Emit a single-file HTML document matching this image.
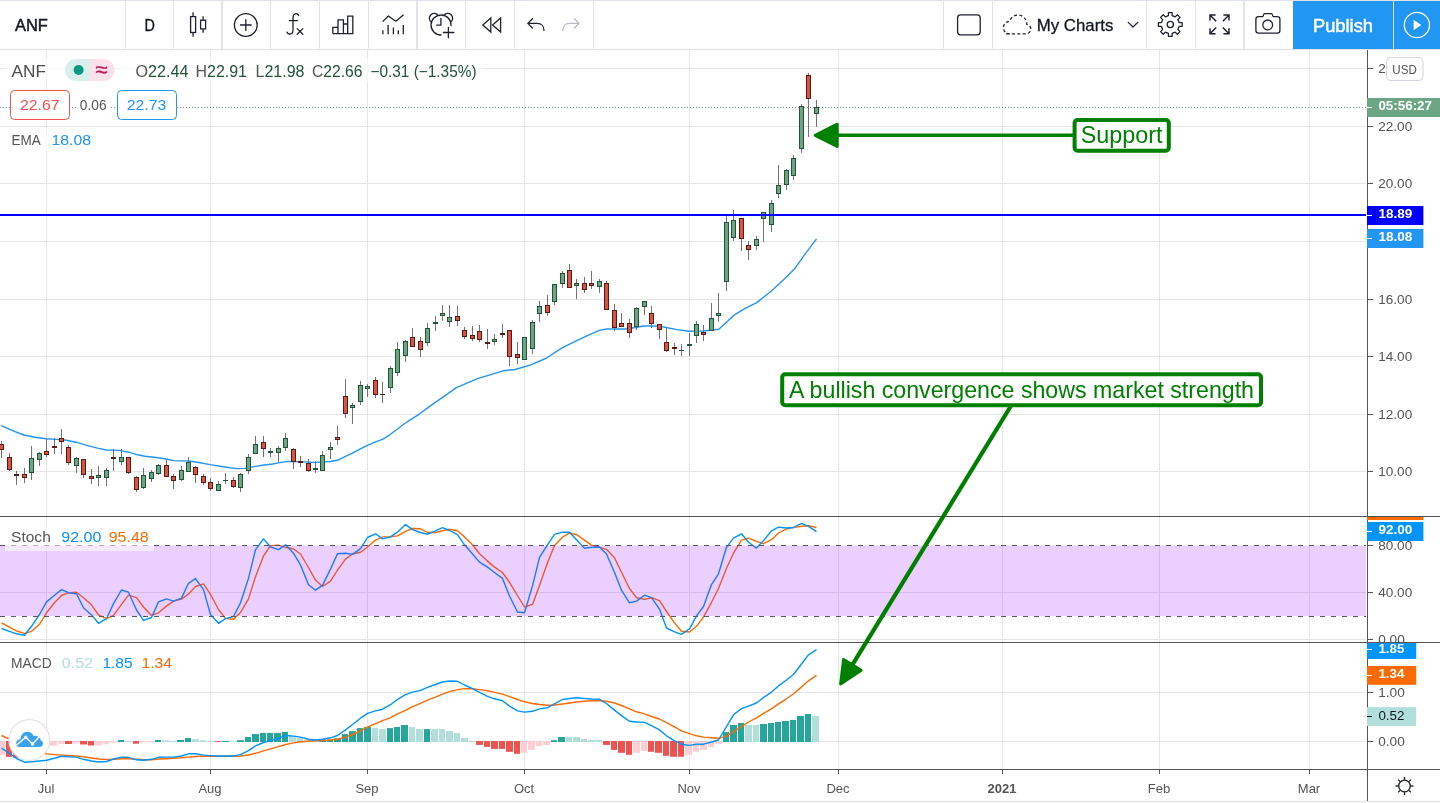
<!DOCTYPE html>
<html lang="en"><head><meta charset="utf-8"><title>ANF chart</title>
<style>
html,body{margin:0;padding:0;background:#fff}
body{width:1440px;height:803px;overflow:hidden;position:relative;font-family:"Liberation Sans", sans-serif}
svg{position:absolute;left:0;top:0;display:block}
</style></head><body>
<svg width="1440" height="803" viewBox="0 0 1440 803" font-family='"Liberation Sans", sans-serif' shape-rendering="auto">
<rect width="1440" height="803" fill="#fff"/>
<g stroke="#e6e6e6" stroke-width="1" shape-rendering="crispEdges">
<line x1="46.5" y1="50" x2="46.5" y2="769"/>
<line x1="210.5" y1="50" x2="210.5" y2="769"/>
<line x1="367.5" y1="50" x2="367.5" y2="769"/>
<line x1="524.5" y1="50" x2="524.5" y2="769"/>
<line x1="689.5" y1="50" x2="689.5" y2="769"/>
<line x1="838.5" y1="50" x2="838.5" y2="769"/>
<line x1="1002.5" y1="50" x2="1002.5" y2="769"/>
<line x1="1159.5" y1="50" x2="1159.5" y2="769"/>
<line x1="1309.5" y1="50" x2="1309.5" y2="769"/>
<line x1="0" y1="68.5" x2="1366" y2="68.5"/>
<line x1="0" y1="126.5" x2="1366" y2="126.5"/>
<line x1="0" y1="183.5" x2="1366" y2="183.5"/>
<line x1="0" y1="241.5" x2="1366" y2="241.5"/>
<line x1="0" y1="299.5" x2="1366" y2="299.5"/>
<line x1="0" y1="356.5" x2="1366" y2="356.5"/>
<line x1="0" y1="414.5" x2="1366" y2="414.5"/>
<line x1="0" y1="471.5" x2="1366" y2="471.5"/>
<line x1="0" y1="592.5" x2="1366" y2="592.5"/>
<line x1="0" y1="639.5" x2="1366" y2="639.5"/>
<line x1="0" y1="692.5" x2="1366" y2="692.5"/>
<line x1="0" y1="741.5" x2="1366" y2="741.5"/>
</g>
<defs><clipPath id="cm"><rect x="0" y="50" width="1366" height="466"/></clipPath><clipPath id="cs"><rect x="0" y="517" width="1366" height="125"/></clipPath><clipPath id="cd"><rect x="0" y="643" width="1366" height="126"/></clipPath><clipPath id="cas"><rect x="1368" y="517" width="72" height="125"/></clipPath><clipPath id="cad"><rect x="1367" y="643" width="73" height="126"/></clipPath><clipPath id="cam"><rect x="1368" y="50" width="72" height="466"/></clipPath></defs>
<line x1="0" y1="107.5" x2="1366" y2="107.5" stroke="#6ba583" stroke-width="1" stroke-dasharray="1 2" shape-rendering="crispEdges"/>
<polyline points="1.2,425.6 12.5,430.6 23.8,435.0 35.0,437.2 46.2,438.8 56.2,439.4 65.0,440.0 76.2,442.2 87.5,445.6 97.5,448.1 106.2,450.0 118.8,450.4 128.8,452.2 137.5,454.8 145.0,456.2 156.2,457.5 166.2,459.0 173.8,460.6 180.0,460.9 188.8,461.0 198.8,462.5 210.0,464.6 220.0,466.2 230.0,467.8 237.5,468.6 245.0,468.4 252.5,466.9 262.5,465.2 272.5,464.0 282.5,462.1 287.5,461.5 295.0,461.5 305.0,461.9 315.0,462.5 325.0,461.9 330.0,461.5 337.5,460.3 345.0,456.6 352.4,453.2 359.9,449.1 367.4,445.3 374.8,442.2 382.3,439.4 389.8,434.8 397.2,429.2 404.7,423.5 412.2,418.6 419.7,413.8 430.0,406.1 438.6,400.2 456.4,387.6 477.4,378.7 503.3,370.8 515.0,369.5 531.5,364.6 546.6,358.0 561.6,348.2 576.7,340.6 589.0,334.9 600.0,330.1 606.8,329.0 626.0,329.0 637.0,327.3 643.8,326.0 654.8,326.0 661.6,326.6 665.0,327.2 677.0,329.6 688.9,331.2 702.9,331.0 718.8,329.2 734.8,314.6 744.7,308.6 756.7,302.6 770.6,291.7 784.6,278.7 794.6,268.8 804.5,254.8 816.5,238.9" fill="none" stroke="#2196f3" stroke-width="1.4" stroke-linejoin="round" clip-path="url(#cm)"/>
<g clip-path="url(#cm)" shape-rendering="crispEdges">
<path d="M1.5 441.0V457.5M9.5 453.1V470.6M16.5 471.0V484.8M24.5 468.1V482.8M31.5 446.2V479.8M39.5 452.1V465.9M46.5 438.8V456.6M54.5 438.1V453.8M61.5 429.0V453.8M68.5 445.0V464.8M76.5 457.1V472.8M83.5 459.1V477.8M91.5 469.1V483.8M98.5 466.0V485.9M106.5 468.1V485.9M113.5 449.1V470.9M121.5 449.1V464.6M128.5 457.1V473.8M136.5 476.2V491.9M143.5 468.1V488.8M151.5 470.2V481.6M158.5 464.0V474.8M166.5 459.1V476.9M173.5 474.1V488.8M181.5 466.2V480.6M188.5 457.1V471.9M195.5 466.2V482.8M203.5 474.1V484.8M210.5 478.1V490.9M218.5 481.2V490.5M225.5 473.1V483.8M233.5 477.2V487.5M240.5 473.1V491.9M248.5 454.1V473.8M255.5 436.2V453.5M263.5 436.2V456.9M270.5 448.1V456.9M278.5 446.0V461.6M285.5 433.1V450.6M293.5 448.1V468.8M300.5 456.2V466.9M308.5 459.1V471.6M315.5 461.2V472.8M322.5 451.2V470.6M330.5 442.2V458.8M337.5 426.2V444.6M345.5 379.2V417.7M352.5 403.1V423.7M360.5 381.1V404.7M367.5 384.0V396.7M375.5 377.2V397.5M382.5 382.1V402.6M390.5 366.2V392.6M397.5 342.3V375.6M405.5 340.3V361.7M412.5 328.2V347.4M420.5 337.1V356.5M427.5 323.3V345.5M435.5 316.0V330.6M442.5 305.0V320.6M449.5 305.0V326.6M457.5 306.0V325.8M464.5 327.1V338.7M472.5 326.1V340.6M479.5 325.1V341.6M487.5 329.2V348.7M494.5 334.2V344.7M502.5 324.1V337.7M509.5 330.1V365.6M517.5 342.1V363.6M524.5 337.2V359.5M532.5 320.2V353.6M539.5 301.3V321.7M547.5 295.3V315.7M554.5 284.2V304.6M562.5 271.2V287.6M569.5 264.2V288.4M576.5 279.2V298.8M584.5 277.2V292.7M591.5 271.2V288.6M599.5 279.2V292.7M606.5 281.0V309.5M614.5 304.3V330.6M621.5 313.2V326.5M629.5 319.1V337.6M636.5 307.3V329.7M644.5 301.3V314.6M651.5 306.2V327.6M659.5 324.3V338.6M666.5 328.0V351.5M674.5 343.1V355.1M681.5 344.1V356.1M689.5 333.2V356.1M696.5 320.8V342.9M703.5 325.2V340.9M711.5 303.1V330.6M718.5 292.9V322.0M726.5 215.9V290.9M733.5 210.0V240.9M741.5 217.9V250.8M748.5 241.3V259.8M756.5 235.9V249.8M763.5 212.0V241.9M771.5 200.0V231.9M778.5 164.8V197.6M786.5 169.0V189.5M793.5 155.2V179.6M801.5 104.0V152.5M808.5 73.1V136.6M816.5 99.8V126.5" stroke="#737375" stroke-width="1" fill="none"/>
<rect x="-0.5" y="444.5" width="4" height="5" fill="#d75442" stroke="#5b1a13"/><rect x="7.5" y="457.5" width="4" height="12" fill="#d75442" stroke="#5b1a13"/><rect x="14" y="474" width="5" height="2" fill="#5b1a13"/><rect x="22.5" y="474.5" width="4" height="3" fill="#d75442" stroke="#5b1a13"/><rect x="29.5" y="458.5" width="4" height="14" fill="#6ba583" stroke="#225437"/><rect x="37.5" y="453.5" width="4" height="6" fill="#6ba583" stroke="#225437"/><rect x="44.5" y="451.5" width="4" height="3" fill="#d75442" stroke="#5b1a13"/><rect x="52" y="446" width="5" height="2" fill="#5b1a13"/><rect x="59.5" y="438.5" width="4" height="3" fill="#d75442" stroke="#5b1a13"/><rect x="66.5" y="447.5" width="4" height="15" fill="#d75442" stroke="#5b1a13"/><rect x="74.5" y="458.5" width="4" height="7" fill="#6ba583" stroke="#225437"/><rect x="81.5" y="459.5" width="4" height="15" fill="#d75442" stroke="#5b1a13"/><rect x="89.5" y="476.5" width="4" height="2" fill="#d75442" stroke="#5b1a13"/><rect x="96.5" y="475.5" width="4" height="2" fill="#6ba583" stroke="#225437"/><rect x="104.5" y="470.5" width="4" height="7" fill="#6ba583" stroke="#225437"/><rect x="111" y="457" width="5" height="2" fill="#5b1a13"/><rect x="119.5" y="457.5" width="4" height="4" fill="#6ba583" stroke="#225437"/><rect x="126.5" y="457.5" width="4" height="15" fill="#d75442" stroke="#5b1a13"/><rect x="134.5" y="477.5" width="4" height="12" fill="#d75442" stroke="#5b1a13"/><rect x="141.5" y="475.5" width="4" height="12" fill="#6ba583" stroke="#225437"/><rect x="149.5" y="472.5" width="4" height="6" fill="#6ba583" stroke="#225437"/><rect x="156.5" y="465.5" width="4" height="8" fill="#6ba583" stroke="#225437"/><rect x="164.5" y="465.5" width="4" height="11" fill="#d75442" stroke="#5b1a13"/><rect x="171.5" y="476.5" width="4" height="4" fill="#d75442" stroke="#5b1a13"/><rect x="179.5" y="470.5" width="4" height="9" fill="#6ba583" stroke="#225437"/><rect x="186.5" y="462.5" width="4" height="9" fill="#6ba583" stroke="#225437"/><rect x="193.5" y="467.5" width="4" height="7" fill="#d75442" stroke="#5b1a13"/><rect x="201.5" y="476.5" width="4" height="6" fill="#d75442" stroke="#5b1a13"/><rect x="208.5" y="482.5" width="4" height="6" fill="#d75442" stroke="#5b1a13"/><rect x="216.5" y="484.5" width="4" height="6" fill="#6ba583" stroke="#225437"/><rect x="223" y="480" width="5" height="1" fill="#225437"/><rect x="231.5" y="480.5" width="4" height="6" fill="#d75442" stroke="#5b1a13"/><rect x="238.5" y="474.5" width="4" height="13" fill="#6ba583" stroke="#225437"/><rect x="246.5" y="457.5" width="4" height="13" fill="#6ba583" stroke="#225437"/><rect x="253.5" y="444.5" width="4" height="9" fill="#6ba583" stroke="#225437"/><rect x="261.5" y="442.5" width="4" height="6" fill="#d75442" stroke="#5b1a13"/><rect x="268" y="451" width="5" height="2" fill="#225437"/><rect x="276.5" y="448.5" width="4" height="4" fill="#6ba583" stroke="#225437"/><rect x="283.5" y="438.5" width="4" height="9" fill="#6ba583" stroke="#225437"/><rect x="291.5" y="449.5" width="4" height="12" fill="#d75442" stroke="#5b1a13"/><rect x="298" y="461" width="5" height="2" fill="#5b1a13"/><rect x="306.5" y="463.5" width="4" height="7" fill="#d75442" stroke="#5b1a13"/><rect x="313" y="468" width="5" height="2" fill="#225437"/><rect x="320.5" y="455.5" width="4" height="15" fill="#6ba583" stroke="#225437"/><rect x="328.5" y="447.5" width="4" height="2" fill="#6ba583" stroke="#225437"/><rect x="335.5" y="437.5" width="4" height="2" fill="#d75442" stroke="#5b1a13"/><rect x="343.5" y="396.5" width="4" height="17" fill="#d75442" stroke="#5b1a13"/><rect x="350.5" y="405.5" width="4" height="2" fill="#6ba583" stroke="#225437"/><rect x="358.5" y="385.5" width="4" height="16" fill="#6ba583" stroke="#225437"/><rect x="365.5" y="386.5" width="4" height="2" fill="#6ba583" stroke="#225437"/><rect x="373.5" y="380.5" width="4" height="14" fill="#d75442" stroke="#5b1a13"/><rect x="380" y="394" width="5" height="1" fill="#5b1a13"/><rect x="388.5" y="368.5" width="4" height="19" fill="#6ba583" stroke="#225437"/><rect x="395.5" y="349.5" width="4" height="23" fill="#6ba583" stroke="#225437"/><rect x="403.5" y="341.5" width="4" height="14" fill="#6ba583" stroke="#225437"/><rect x="410.5" y="337.5" width="4" height="9" fill="#d75442" stroke="#5b1a13"/><rect x="418.5" y="341.5" width="4" height="8" fill="#d75442" stroke="#5b1a13"/><rect x="425.5" y="328.5" width="4" height="14" fill="#6ba583" stroke="#225437"/><rect x="433" y="322" width="5" height="2" fill="#225437"/><rect x="440.5" y="313.5" width="4" height="2" fill="#6ba583" stroke="#225437"/><rect x="447.5" y="317.5" width="4" height="4" fill="#6ba583" stroke="#225437"/><rect x="455.5" y="316.5" width="4" height="4" fill="#d75442" stroke="#5b1a13"/><rect x="462.5" y="330.5" width="4" height="6" fill="#d75442" stroke="#5b1a13"/><rect x="470.5" y="335.5" width="4" height="3" fill="#d75442" stroke="#5b1a13"/><rect x="477.5" y="331.5" width="4" height="8" fill="#d75442" stroke="#5b1a13"/><rect x="485" y="342" width="5" height="2" fill="#5b1a13"/><rect x="492.5" y="339.5" width="4" height="2" fill="#6ba583" stroke="#225437"/><rect x="500" y="333" width="5" height="2" fill="#5b1a13"/><rect x="507.5" y="330.5" width="4" height="26" fill="#d75442" stroke="#5b1a13"/><rect x="515.5" y="354.5" width="4" height="3" fill="#d75442" stroke="#5b1a13"/><rect x="522.5" y="337.5" width="4" height="22" fill="#6ba583" stroke="#225437"/><rect x="530.5" y="322.5" width="4" height="26" fill="#6ba583" stroke="#225437"/><rect x="537.5" y="306.5" width="4" height="7" fill="#6ba583" stroke="#225437"/><rect x="545.5" y="305.5" width="4" height="7" fill="#d75442" stroke="#5b1a13"/><rect x="552.5" y="284.5" width="4" height="17" fill="#6ba583" stroke="#225437"/><rect x="560.5" y="273.5" width="4" height="10" fill="#6ba583" stroke="#225437"/><rect x="567.5" y="270.5" width="4" height="17" fill="#d75442" stroke="#5b1a13"/><rect x="574.5" y="283.5" width="4" height="2" fill="#6ba583" stroke="#225437"/><rect x="582.5" y="283.5" width="4" height="6" fill="#d75442" stroke="#5b1a13"/><rect x="589.5" y="283.5" width="4" height="2" fill="#d75442" stroke="#5b1a13"/><rect x="597.5" y="281.5" width="4" height="5" fill="#6ba583" stroke="#225437"/><rect x="604.5" y="283.5" width="4" height="26" fill="#d75442" stroke="#5b1a13"/><rect x="612.5" y="310.5" width="4" height="17" fill="#d75442" stroke="#5b1a13"/><rect x="619.5" y="323.5" width="4" height="3" fill="#d75442" stroke="#5b1a13"/><rect x="627.5" y="323.5" width="4" height="9" fill="#d75442" stroke="#5b1a13"/><rect x="634.5" y="308.5" width="4" height="18" fill="#6ba583" stroke="#225437"/><rect x="642.5" y="301.5" width="4" height="5" fill="#6ba583" stroke="#225437"/><rect x="649.5" y="313.5" width="4" height="10" fill="#d75442" stroke="#5b1a13"/><rect x="657.5" y="324.5" width="4" height="5" fill="#d75442" stroke="#5b1a13"/><rect x="664.5" y="342.5" width="4" height="8" fill="#d75442" stroke="#5b1a13"/><rect x="672" y="347" width="5" height="2" fill="#5b1a13"/><rect x="679" y="350" width="5" height="1" fill="#225437"/><rect x="687" y="344" width="5" height="2" fill="#225437"/><rect x="694.5" y="324.5" width="4" height="11" fill="#6ba583" stroke="#225437"/><rect x="701.5" y="332.5" width="4" height="2" fill="#d75442" stroke="#5b1a13"/><rect x="709.5" y="318.5" width="4" height="12" fill="#6ba583" stroke="#225437"/><rect x="716.5" y="313.5" width="4" height="2" fill="#6ba583" stroke="#225437"/><rect x="724.5" y="222.5" width="4" height="59" fill="#6ba583" stroke="#225437"/><rect x="731.5" y="220.5" width="4" height="17" fill="#6ba583" stroke="#225437"/><rect x="739.5" y="218.5" width="4" height="20" fill="#d75442" stroke="#5b1a13"/><rect x="746.5" y="245.5" width="4" height="4" fill="#d75442" stroke="#5b1a13"/><rect x="754.5" y="239.5" width="4" height="6" fill="#6ba583" stroke="#225437"/><rect x="761.5" y="212.5" width="4" height="6" fill="#6ba583" stroke="#225437"/><rect x="769.5" y="203.5" width="4" height="21" fill="#6ba583" stroke="#225437"/><rect x="776.5" y="185.5" width="4" height="8" fill="#6ba583" stroke="#225437"/><rect x="784.5" y="170.5" width="4" height="14" fill="#6ba583" stroke="#225437"/><rect x="791.5" y="158.5" width="4" height="17" fill="#6ba583" stroke="#225437"/><rect x="799.5" y="106.5" width="4" height="42" fill="#6ba583" stroke="#225437"/><rect x="806.5" y="75.5" width="4" height="23" fill="#d75442" stroke="#5b1a13"/><rect x="814.5" y="107.5" width="4" height="6" fill="#6ba583" stroke="#225437"/>
</g>
<rect x="0" y="214" width="1366" height="2" fill="#0000ff"/>
<g clip-path="url(#cs)">
<polyline points="1.5,622.9 9.5,627.1 16.5,631.0 24.5,633.3 31.5,631.3 39.5,624.3 46.5,612.8 54.5,602.8 61.5,595.5 68.5,592.7 76.5,592.2 83.5,597.7 91.5,604.8 98.5,614.9 106.5,618.7 113.5,615.4 121.5,604.4 128.5,595.2 136.5,597.7 143.5,607.0 151.5,615.4 158.5,612.8 166.5,606.1 173.5,601.1 181.5,599.1 188.5,594.0 195.5,586.5 203.5,583.8 210.5,594.4 218.5,609.5 225.5,618.4 233.5,619.2 240.5,612.5 248.5,598.9 255.5,576.7 263.5,556.0 270.5,545.6 278.5,545.1 285.5,547.3 293.5,549.0 300.5,554.0 308.5,567.5 315.5,580.1 322.5,586.5 330.5,581.2 337.5,570.0 345.5,559.1 352.5,554.0 360.5,552.3 367.5,547.0 375.5,540.1 382.5,536.9 390.5,536.7 397.5,535.9 405.5,531.3 412.5,528.5 420.5,528.8 427.5,532.5 435.5,532.5 442.5,530.8 449.5,529.3 457.5,530.8 464.5,536.9 472.5,544.8 479.5,553.7 487.5,561.1 494.5,567.1 502.5,572.5 509.5,582.3 517.5,595.5 524.5,607.0 532.5,604.4 539.5,585.4 547.5,562.8 554.5,545.6 562.5,537.2 569.5,533.0 576.5,534.7 584.5,540.1 591.5,545.1 599.5,547.3 606.5,549.3 614.5,557.7 621.5,572.2 629.5,588.5 636.5,597.7 644.5,599.4 651.5,597.7 659.5,600.6 666.5,611.5 674.5,622.9 681.5,631.3 689.5,632.0 696.5,626.3 703.5,617.0 711.5,602.3 718.5,588.5 726.5,568.3 733.5,553.2 741.5,540.2 748.5,538.1 756.5,541.4 763.5,543.6 771.5,539.7 778.5,533.0 786.5,528.8 793.5,527.6 801.5,526.3 808.5,525.8 816.5,527.5" fill="none" stroke="#ff6a00" stroke-width="1.4" stroke-linejoin="round"/>
<polyline points="1.5,628.5 9.5,631.3 16.5,633.8 24.5,635.2 31.5,626.3 39.5,614.5 46.5,601.9 54.5,595.2 61.5,589.6 68.5,592.7 76.5,593.8 83.5,607.8 91.5,614.9 98.5,623.3 106.5,618.7 113.5,603.6 121.5,590.0 128.5,592.2 136.5,610.0 143.5,620.4 151.5,617.5 158.5,601.9 166.5,598.9 173.5,601.1 181.5,598.1 188.5,583.3 195.5,578.6 203.5,589.6 210.5,614.5 218.5,623.3 225.5,618.7 233.5,616.5 240.5,602.8 248.5,578.4 255.5,549.8 263.5,538.9 270.5,547.0 278.5,549.6 285.5,544.8 293.5,553.2 300.5,564.9 308.5,584.8 315.5,590.2 322.5,585.4 330.5,569.1 337.5,553.7 345.5,553.2 352.5,554.4 360.5,548.6 367.5,537.5 375.5,533.8 382.5,538.9 390.5,536.9 397.5,532.2 405.5,524.6 412.5,529.6 420.5,532.5 427.5,534.2 435.5,530.8 442.5,527.6 449.5,530.5 457.5,534.7 464.5,544.8 472.5,554.0 479.5,562.1 487.5,567.1 494.5,572.5 502.5,578.4 509.5,596.0 517.5,612.0 524.5,612.8 532.5,585.9 539.5,557.4 547.5,544.8 554.5,534.4 562.5,532.2 569.5,532.2 576.5,539.7 584.5,548.3 591.5,547.3 599.5,547.0 606.5,554.0 614.5,572.5 621.5,590.2 629.5,602.8 636.5,601.1 644.5,595.2 651.5,597.7 659.5,609.1 666.5,628.0 674.5,631.8 681.5,634.4 689.5,628.8 696.5,615.9 703.5,606.5 711.5,584.6 718.5,573.8 726.5,547.3 733.5,538.1 741.5,533.8 748.5,542.3 756.5,548.1 763.5,540.6 771.5,530.8 778.5,527.1 786.5,528.0 793.5,527.5 801.5,523.4 808.5,526.3 816.5,531.7" fill="none" stroke="#0094ff" stroke-width="1.4" stroke-linejoin="round"/>
<rect x="0" y="545.5" width="1366" height="70.5" fill="#9915ff" fill-opacity="0.2"/>
<g stroke="#5a5560" stroke-width="1" stroke-dasharray="5 6" shape-rendering="crispEdges"><line x1="0" y1="545.5" x2="1366" y2="545.5"/><line x1="0" y1="616.5" x2="1366" y2="616.5"/></g>
</g>
<g clip-path="url(#cd)">
<rect x="-2" y="741" width="7" height="13.8" fill="#ffcdd2"/><rect x="6" y="741" width="6" height="15.9" fill="#ef5350"/><rect x="13" y="741" width="6" height="16.8" fill="#ef5350"/><rect x="20" y="741" width="7" height="14.0" fill="#ffcdd2"/><rect x="28" y="741" width="6" height="11.0" fill="#ffcdd2"/><rect x="35" y="741" width="7" height="8.0" fill="#ffcdd2"/><rect x="43" y="741" width="6" height="6.0" fill="#ffcdd2"/><rect x="50" y="741" width="7" height="4.7" fill="#ffcdd2"/><rect x="58" y="741" width="6" height="2.8" fill="#ffcdd2"/><rect x="65" y="741" width="7" height="3.0" fill="#ef5350"/><rect x="73" y="741" width="6" height="2.5" fill="#ffcdd2"/><rect x="80" y="741" width="7" height="3.5" fill="#ef5350"/><rect x="88" y="741" width="6" height="4.5" fill="#ef5350"/><rect x="95" y="741" width="7" height="4.4" fill="#ffcdd2"/><rect x="103" y="741" width="6" height="3.2" fill="#ffcdd2"/><rect x="110" y="741" width="7" height="1.5" fill="#ffcdd2"/><rect x="118" y="740.0" width="6" height="2.0" fill="#26a69a"/><rect x="125" y="741.0" width="7" height="1.0" fill="#b2dfdb"/><rect x="133" y="741" width="6" height="2.7" fill="#ef5350"/><rect x="140" y="741" width="6" height="1.5" fill="#ffcdd2"/><rect x="147" y="741" width="7" height="1.3" fill="#ffcdd2"/><rect x="155" y="740.0" width="6" height="2.0" fill="#26a69a"/><rect x="162" y="740.3" width="7" height="1.7" fill="#b2dfdb"/><rect x="170" y="741.0" width="6" height="1.0" fill="#b2dfdb"/><rect x="177" y="740.0" width="7" height="2.0" fill="#26a69a"/><rect x="185" y="738.1" width="6" height="3.9" fill="#26a69a"/><rect x="192" y="739.1" width="7" height="2.9" fill="#b2dfdb"/><rect x="200" y="740.2" width="6" height="1.8" fill="#b2dfdb"/><rect x="207" y="741.2" width="7" height="0.8" fill="#b2dfdb"/><rect x="215" y="741" width="6" height="1.0" fill="#ef5350"/><rect x="222" y="741.0" width="7" height="1.0" fill="#26a69a"/><rect x="230" y="741.3" width="6" height="0.7" fill="#b2dfdb"/><rect x="237" y="740.2" width="7" height="1.8" fill="#26a69a"/><rect x="245" y="737.0" width="6" height="5.0" fill="#26a69a"/><rect x="252" y="734.1" width="7" height="7.9" fill="#26a69a"/><rect x="260" y="732.9" width="6" height="9.1" fill="#26a69a"/><rect x="267" y="732.9" width="6" height="9.1" fill="#26a69a"/><rect x="274" y="732.9" width="7" height="9.1" fill="#26a69a"/><rect x="282" y="731.9" width="6" height="10.1" fill="#26a69a"/><rect x="289" y="735.8" width="7" height="6.2" fill="#b2dfdb"/><rect x="297" y="737.8" width="6" height="4.2" fill="#b2dfdb"/><rect x="304" y="739.5" width="7" height="2.5" fill="#b2dfdb"/><rect x="312" y="740.5" width="6" height="1.5" fill="#b2dfdb"/><rect x="319" y="740.2" width="7" height="1.8" fill="#26a69a"/><rect x="327" y="739.5" width="6" height="2.5" fill="#26a69a"/><rect x="334" y="738.3" width="7" height="3.7" fill="#26a69a"/><rect x="342" y="734.1" width="6" height="7.9" fill="#26a69a"/><rect x="349" y="731.1" width="7" height="10.9" fill="#26a69a"/><rect x="357" y="728.1" width="6" height="13.9" fill="#26a69a"/><rect x="364" y="727.0" width="7" height="15.0" fill="#26a69a"/><rect x="372" y="728.1" width="6" height="13.9" fill="#b2dfdb"/><rect x="379" y="729.1" width="7" height="12.9" fill="#b2dfdb"/><rect x="387" y="728.1" width="6" height="13.9" fill="#26a69a"/><rect x="394" y="727.0" width="6" height="15.0" fill="#26a69a"/><rect x="401" y="725.0" width="7" height="17.0" fill="#26a69a"/><rect x="409" y="727.0" width="6" height="15.0" fill="#b2dfdb"/><rect x="416" y="729.1" width="7" height="12.9" fill="#b2dfdb"/><rect x="424" y="729.1" width="6" height="12.9" fill="#26a69a"/><rect x="431" y="729.1" width="7" height="12.9" fill="#b2dfdb"/><rect x="439" y="729.1" width="6" height="12.9" fill="#b2dfdb"/><rect x="446" y="731.1" width="7" height="10.9" fill="#b2dfdb"/><rect x="454" y="733.1" width="6" height="8.9" fill="#b2dfdb"/><rect x="461" y="738.0" width="7" height="4.0" fill="#b2dfdb"/><rect x="469" y="741.0" width="6" height="1.0" fill="#b2dfdb"/><rect x="476" y="741" width="7" height="3.9" fill="#ef5350"/><rect x="484" y="741" width="6" height="5.9" fill="#ef5350"/><rect x="491" y="741" width="7" height="7.9" fill="#ef5350"/><rect x="499" y="741" width="6" height="7.9" fill="#ef5350"/><rect x="506" y="741" width="7" height="10.8" fill="#ef5350"/><rect x="514" y="741" width="6" height="12.8" fill="#ef5350"/><rect x="521" y="741" width="6" height="11.8" fill="#ffcdd2"/><rect x="528" y="741" width="7" height="8.9" fill="#ffcdd2"/><rect x="536" y="741" width="6" height="4.9" fill="#ffcdd2"/><rect x="543" y="741" width="7" height="3.9" fill="#ffcdd2"/><rect x="551" y="740.2" width="6" height="1.8" fill="#26a69a"/><rect x="558" y="737.0" width="7" height="5.0" fill="#26a69a"/><rect x="566" y="737.0" width="6" height="5.0" fill="#b2dfdb"/><rect x="573" y="737.0" width="7" height="5.0" fill="#b2dfdb"/><rect x="581" y="739.0" width="6" height="3.0" fill="#b2dfdb"/><rect x="588" y="740.0" width="7" height="2.0" fill="#b2dfdb"/><rect x="596" y="740.0" width="6" height="2.0" fill="#b2dfdb"/><rect x="603" y="741" width="7" height="3.9" fill="#ef5350"/><rect x="611" y="741" width="6" height="8.9" fill="#ef5350"/><rect x="618" y="741" width="7" height="11.8" fill="#ef5350"/><rect x="626" y="741" width="6" height="13.8" fill="#ef5350"/><rect x="633" y="741" width="7" height="11.8" fill="#ffcdd2"/><rect x="641" y="741" width="6" height="9.9" fill="#ffcdd2"/><rect x="648" y="741" width="6" height="10.8" fill="#ef5350"/><rect x="655" y="741" width="7" height="11.8" fill="#ef5350"/><rect x="663" y="741" width="6" height="14.8" fill="#ef5350"/><rect x="670" y="741" width="7" height="15.8" fill="#ef5350"/><rect x="678" y="741" width="6" height="15.8" fill="#ef5350"/><rect x="685" y="741" width="7" height="13.8" fill="#ffcdd2"/><rect x="693" y="741" width="6" height="10.8" fill="#ffcdd2"/><rect x="700" y="741" width="7" height="8.9" fill="#ffcdd2"/><rect x="708" y="741" width="6" height="5.9" fill="#ffcdd2"/><rect x="715" y="741" width="7" height="2.9" fill="#ffcdd2"/><rect x="723" y="732.1" width="6" height="9.9" fill="#26a69a"/><rect x="730" y="725.0" width="7" height="17.0" fill="#26a69a"/><rect x="738" y="723.0" width="6" height="19.0" fill="#26a69a"/><rect x="745" y="725.0" width="7" height="17.0" fill="#b2dfdb"/><rect x="753" y="725.0" width="6" height="17.0" fill="#b2dfdb"/><rect x="760" y="724.0" width="7" height="18.0" fill="#26a69a"/><rect x="768" y="723.0" width="6" height="19.0" fill="#26a69a"/><rect x="775" y="722.0" width="6" height="20.0" fill="#26a69a"/><rect x="782" y="721.0" width="7" height="21.0" fill="#26a69a"/><rect x="790" y="720.0" width="6" height="22.0" fill="#26a69a"/><rect x="797" y="716.0" width="7" height="26.0" fill="#26a69a"/><rect x="805" y="714.0" width="6" height="28.0" fill="#26a69a"/><rect x="812" y="716.0" width="7" height="26.0" fill="#b2dfdb"/>
<polyline points="1.5,735.5 9.5,739.2 16.5,742.9 24.5,746.2 31.5,749.2 39.5,751.8 46.5,753.9 54.5,754.6 61.5,755.1 68.5,755.5 76.5,756.0 83.5,756.8 91.5,758.0 98.5,759.0 106.5,759.5 113.5,759.3 121.5,758.7 128.5,758.7 136.5,759.3 143.5,759.7 151.5,759.7 158.5,759.0 166.5,758.7 173.5,758.3 181.5,757.8 188.5,757.1 195.5,756.5 203.5,756.1 210.5,756.3 218.5,756.3 225.5,756.3 233.5,756.3 240.5,756.0 248.5,755.0 255.5,753.3 263.5,750.9 270.5,748.9 278.5,746.7 285.5,744.5 293.5,742.9 300.5,741.7 308.5,741.2 315.5,740.8 322.5,740.5 330.5,740.0 337.5,739.2 345.5,737.1 352.5,734.5 360.5,730.8 367.5,727.1 375.5,723.7 382.5,720.7 390.5,717.6 397.5,713.9 405.5,710.3 412.5,706.7 420.5,703.4 427.5,700.2 435.5,697.1 442.5,694.1 449.5,691.6 457.5,689.6 464.5,688.6 472.5,688.7 479.5,689.6 487.5,690.8 494.5,692.4 502.5,694.1 509.5,696.6 517.5,699.5 524.5,701.8 532.5,703.5 539.5,704.5 547.5,705.2 554.5,705.0 562.5,704.0 569.5,703.0 576.5,702.0 584.5,701.3 591.5,700.8 599.5,700.5 606.5,701.2 614.5,703.0 621.5,705.5 629.5,708.9 636.5,711.8 644.5,713.9 651.5,716.5 659.5,719.0 666.5,722.7 674.5,726.9 681.5,730.8 689.5,733.6 696.5,735.8 703.5,737.1 711.5,737.8 718.5,738.3 726.5,736.1 733.5,731.6 741.5,726.6 748.5,722.0 756.5,717.8 763.5,713.4 771.5,708.9 778.5,703.9 786.5,698.8 793.5,693.8 801.5,687.1 808.5,680.8 816.5,675.3" fill="none" stroke="#ff6a00" stroke-width="1.4" stroke-linejoin="round"/>
<polyline points="1.5,748.1 9.5,753.4 16.5,758.5 24.5,762.2 31.5,761.8 39.5,761.0 46.5,760.2 54.5,758.2 61.5,756.3 68.5,756.8 76.5,757.1 83.5,759.3 91.5,761.0 98.5,762.0 106.5,761.5 113.5,759.0 121.5,757.1 128.5,757.3 136.5,759.8 143.5,760.2 151.5,759.3 158.5,757.3 166.5,757.1 173.5,757.1 181.5,756.0 188.5,753.8 195.5,753.8 203.5,755.1 210.5,755.6 218.5,756.0 225.5,756.0 233.5,756.0 240.5,754.6 248.5,750.6 255.5,745.9 263.5,742.5 270.5,740.5 278.5,738.3 285.5,735.5 293.5,736.1 300.5,737.1 308.5,739.2 315.5,740.0 322.5,739.2 330.5,737.8 337.5,735.5 345.5,729.9 352.5,724.5 360.5,718.2 367.5,713.4 375.5,710.9 382.5,709.2 390.5,704.7 397.5,699.3 405.5,694.6 412.5,692.1 420.5,690.4 427.5,687.4 435.5,684.5 442.5,682.0 449.5,681.0 457.5,681.3 464.5,685.0 472.5,688.7 479.5,692.4 487.5,696.3 494.5,698.8 502.5,700.8 509.5,706.1 517.5,710.9 524.5,712.1 532.5,711.3 539.5,708.9 547.5,707.7 554.5,703.9 562.5,699.5 569.5,698.5 576.5,697.8 584.5,698.5 591.5,699.0 599.5,699.3 606.5,703.5 614.5,710.1 621.5,715.6 629.5,721.2 636.5,722.0 644.5,722.4 651.5,725.7 659.5,729.9 666.5,735.8 674.5,740.8 681.5,744.2 689.5,745.4 696.5,744.2 703.5,744.2 711.5,742.0 718.5,740.0 726.5,726.6 733.5,714.8 741.5,708.6 748.5,706.1 756.5,703.0 763.5,697.6 771.5,692.1 778.5,685.9 786.5,680.0 793.5,674.5 801.5,664.0 808.5,654.8 816.5,649.7" fill="none" stroke="#0094ff" stroke-width="1.4" stroke-linejoin="round"/>
</g>
<g fill="#555555" shape-rendering="crispEdges">
<rect x="0" y="516" width="1440" height="1"/>
<rect x="0" y="642" width="1440" height="1"/>
<rect x="0" y="769" width="1440" height="1"/>
<rect x="1367" y="50" width="1" height="751"/>
<rect x="46" y="770" width="1" height="4"/>
<rect x="210" y="770" width="1" height="4"/>
<rect x="367" y="770" width="1" height="4"/>
<rect x="524" y="770" width="1" height="4"/>
<rect x="689" y="770" width="1" height="4"/>
<rect x="838" y="770" width="1" height="4"/>
<rect x="1002" y="770" width="1" height="4"/>
<rect x="1159" y="770" width="1" height="4"/>
<rect x="1309" y="770" width="1" height="4"/>
<rect x="1368" y="68" width="5" height="1"/>
<rect x="1368" y="126" width="5" height="1"/>
<rect x="1368" y="183" width="5" height="1"/>
<rect x="1368" y="241" width="5" height="1"/>
<rect x="1368" y="299" width="5" height="1"/>
<rect x="1368" y="356" width="5" height="1"/>
<rect x="1368" y="414" width="5" height="1"/>
<rect x="1368" y="471" width="5" height="1"/>
<rect x="1368" y="545" width="5" height="1"/>
<rect x="1368" y="592" width="5" height="1"/>
<rect x="1368" y="639" width="5" height="1"/>
<rect x="1368" y="692" width="5" height="1"/>
<rect x="1368" y="741" width="5" height="1"/>
</g>
<rect x="0" y="801" width="1440" height="1" fill="#e0e3eb"/>
<g clip-path="url(#cam)">
<text x="1378.2" y="72.8" font-size="13.3" fill="#555555" textLength="34.0" lengthAdjust="spacingAndGlyphs">24.00</text>
<text x="1378.2" y="130.8" font-size="13.3" fill="#555555" textLength="34.0" lengthAdjust="spacingAndGlyphs">22.00</text>
<text x="1378.2" y="187.8" font-size="13.3" fill="#555555" textLength="34.0" lengthAdjust="spacingAndGlyphs">20.00</text>
<text x="1378.2" y="303.8" font-size="13.3" fill="#555555" textLength="34.0" lengthAdjust="spacingAndGlyphs">16.00</text>
<text x="1378.2" y="360.8" font-size="13.3" fill="#555555" textLength="34.0" lengthAdjust="spacingAndGlyphs">14.00</text>
<text x="1378.2" y="418.8" font-size="13.3" fill="#555555" textLength="34.0" lengthAdjust="spacingAndGlyphs">12.00</text>
<text x="1378.2" y="475.8" font-size="13.3" fill="#555555" textLength="34.0" lengthAdjust="spacingAndGlyphs">10.00</text>
</g>
<g clip-path="url(#cas)">
<text x="1378.2" y="549.8" font-size="13.3" fill="#555555" textLength="34.0" lengthAdjust="spacingAndGlyphs">80.00</text>
<text x="1378.2" y="596.8" font-size="13.3" fill="#555555" textLength="34.0" lengthAdjust="spacingAndGlyphs">40.00</text>
<text x="1378.2" y="643.8" font-size="13.3" fill="#555555" textLength="26.6" lengthAdjust="spacingAndGlyphs">0.00</text>
</g>
<g clip-path="url(#cad)">
<text x="1378.2" y="696.8" font-size="13.3" fill="#555555" textLength="26.6" lengthAdjust="spacingAndGlyphs">1.00</text>
<text x="1378.2" y="745.8" font-size="13.3" fill="#555555" textLength="26.6" lengthAdjust="spacingAndGlyphs">0.00</text>
</g>
<g>
<rect x="1367" y="98" width="73" height="19.0" fill="#6ba583"/>
<rect x="1367" y="107" width="5" height="1" fill="#fff"/>
<text x="1378.4" y="110.4" font-size="13.6" fill="#fff" font-weight="bold" textLength="53.6" lengthAdjust="spacingAndGlyphs">05:56:27</text>
</g>
<g>
<rect x="1367" y="206" width="56.40000000000009" height="19.0" fill="#0000ff"/>
<rect x="1367" y="215" width="5" height="1" fill="#fff"/>
<text x="1378.4" y="218.4" font-size="13.6" fill="#fff" font-weight="bold" textLength="34.0" lengthAdjust="spacingAndGlyphs">18.89</text>
</g>
<g>
<rect x="1367" y="229" width="56.40000000000009" height="19.0" fill="#2196f3"/>
<rect x="1367" y="238" width="5" height="1" fill="#fff"/>
<text x="1378.4" y="241.4" font-size="13.6" fill="#fff" font-weight="bold" textLength="34.0" lengthAdjust="spacingAndGlyphs">18.08</text>
</g>
<rect x="1367" y="517" width="56.4" height="3" fill="#ff6a00"/>
<g>
<rect x="1367" y="522" width="56.40000000000009" height="19.0" fill="#0094ff"/>
<rect x="1367" y="531" width="5" height="1" fill="#fff"/>
<text x="1378.4" y="534.4" font-size="13.6" fill="#fff" font-weight="bold" textLength="34.0" lengthAdjust="spacingAndGlyphs">92.00</text>
</g>
<g clip-path="url(#cad)">
<rect x="1367" y="640.4" width="49.200000000000045" height="18.6" fill="#0094ff"/>
<rect x="1367" y="649" width="5" height="1" fill="#fff"/>
<text x="1378.4" y="652.6" font-size="13.6" fill="#fff" font-weight="bold" textLength="26.0" lengthAdjust="spacingAndGlyphs">1.85</text>
</g>
<g>
<rect x="1367" y="666" width="49.200000000000045" height="18.8" fill="#ff6a00"/>
<rect x="1367" y="675" width="5" height="1" fill="#fff"/>
<text x="1378.4" y="678.3" font-size="13.6" fill="#fff" font-weight="bold" textLength="26.0" lengthAdjust="spacingAndGlyphs">1.34</text>
</g>
<g>
<rect x="1367" y="707.2" width="49.200000000000045" height="18.8" fill="#b2dfdb"/>
<rect x="1367" y="716" width="5" height="1" fill="#131722"/>
<text x="1378.4" y="719.5" font-size="13.6" fill="#131722" textLength="26.0" lengthAdjust="spacingAndGlyphs">0.52</text>
</g>
<rect x="1386.5" y="57.5" width="36.5" height="23" rx="4" fill="#fff" stroke="#d1d4dc"/>
<text x="1392.3" y="73.6" font-size="13" fill="#555555" textLength="24.5" lengthAdjust="spacingAndGlyphs">USD</text>
<text x="46.0" y="792.8" font-size="13" fill="#555555" text-anchor="middle">Jul</text>
<text x="210.0" y="792.8" font-size="13" fill="#555555" text-anchor="middle">Aug</text>
<text x="367.0" y="792.8" font-size="13" fill="#555555" text-anchor="middle">Sep</text>
<text x="524.0" y="792.8" font-size="13" fill="#555555" text-anchor="middle">Oct</text>
<text x="689.0" y="792.8" font-size="13" fill="#555555" text-anchor="middle">Nov</text>
<text x="838.0" y="792.8" font-size="13" fill="#555555" text-anchor="middle">Dec</text>
<text x="1159.0" y="792.8" font-size="13" fill="#555555" text-anchor="middle">Feb</text>
<text x="1309.0" y="792.8" font-size="13" fill="#555555" text-anchor="middle">Mar</text>
<text x="1002.0" y="792.8" font-size="13" fill="#555555" font-weight="bold" text-anchor="middle">2021</text>
<g stroke="#131722" fill="none" stroke-width="1.3"><circle cx="1404.5" cy="786" r="5.8"/>
<line x1="1410.7" y1="786.0" x2="1413.5" y2="786.0"/>
<line x1="1408.9" y1="790.4" x2="1410.9" y2="792.4"/>
<line x1="1404.5" y1="792.2" x2="1404.5" y2="795.0"/>
<line x1="1400.1" y1="790.4" x2="1398.1" y2="792.4"/>
<line x1="1398.3" y1="786.0" x2="1395.5" y2="786.0"/>
<line x1="1400.1" y1="781.6" x2="1398.1" y2="779.6"/>
<line x1="1404.5" y1="779.8" x2="1404.5" y2="777.0"/>
<line x1="1408.9" y1="781.6" x2="1410.9" y2="779.6"/>
</g>
<rect x="6" y="58" width="476" height="24" fill="#fff" fill-opacity="0.65"/>
<rect x="6" y="129" width="90" height="22" fill="#fff" fill-opacity="0.65"/>
<rect x="6" y="653" width="171" height="22" fill="#fff" fill-opacity="0.65"/>
<text x="11.5" y="76.9" font-size="17" fill="#4f4f4f" textLength="34.5" lengthAdjust="spacingAndGlyphs">ANF</text>
<path d="M76 59H90V81H76A11 11 0 0 1 76 59Z" fill="#d9efec"/>
<path d="M90 59H103.6A11 11 0 0 1 103.6 81H90Z" fill="#fce1ea"/>
<circle cx="78.6" cy="70" r="5" fill="#089981"/>
<text x="101.3" y="77.2" font-size="22" fill="#c2185b" text-anchor="middle" stroke="#c2185b" stroke-width="0.4">≈</text>
<text x="135.5" y="76.9" font-size="16" textLength="53.0" lengthAdjust="spacingAndGlyphs"><tspan fill="#555555">O</tspan><tspan fill="#225437">22.44</tspan></text>
<text x="195.5" y="76.9" font-size="16" textLength="51.5" lengthAdjust="spacingAndGlyphs"><tspan fill="#555555">H</tspan><tspan fill="#225437">22.91</tspan></text>
<text x="255.5" y="76.9" font-size="16" textLength="49.0" lengthAdjust="spacingAndGlyphs"><tspan fill="#555555">L</tspan><tspan fill="#225437">21.98</tspan></text>
<text x="312.0" y="76.9" font-size="16" textLength="50.5" lengthAdjust="spacingAndGlyphs"><tspan fill="#555555">C</tspan><tspan fill="#225437">22.66</tspan></text>
<text x="370.5" y="76.9" font-size="16" fill="#225437" textLength="106.0" lengthAdjust="spacingAndGlyphs">−0.31 (−1.35%)</text>
<rect x="10.5" y="90.5" width="59" height="29" rx="4" fill="#fff" stroke="#ef5350"/>
<text x="20.0" y="109.9" font-size="14.5" fill="#ef5350" textLength="39.5" lengthAdjust="spacingAndGlyphs">22.67</text>
<rect x="76" y="96" width="34" height="18" fill="#fff" fill-opacity="0.85"/>
<text x="79.8" y="109.9" font-size="14.5" fill="#555555" textLength="26.8" lengthAdjust="spacingAndGlyphs">0.06</text>
<rect x="117.5" y="90.5" width="59" height="29" rx="4" fill="#fff" stroke="#2196f3"/>
<text x="126.8" y="109.9" font-size="14.5" fill="#2196f3" textLength="39.5" lengthAdjust="spacingAndGlyphs">22.73</text>
<text x="11.5" y="144.6" font-size="14" fill="#555555" textLength="29.3" lengthAdjust="spacingAndGlyphs">EMA</text>
<text x="51.5" y="144.6" font-size="14.5" fill="#2196f3" textLength="39.5" lengthAdjust="spacingAndGlyphs">18.08</text>
<rect x="5" y="527" width="149" height="24" fill="#fff" fill-opacity="0.55"/>
<text x="11.0" y="541.9" font-size="14.5" fill="#555555" textLength="39.8" lengthAdjust="spacingAndGlyphs">Stoch</text>
<text x="61.3" y="541.9" font-size="14.5" fill="#0094ff" textLength="40.0" lengthAdjust="spacingAndGlyphs">92.00</text>
<text x="108.7" y="541.9" font-size="14.5" fill="#ff6a00" textLength="40.0" lengthAdjust="spacingAndGlyphs">95.48</text>
<text x="11.0" y="667.7" font-size="14.5" fill="#555555" textLength="40.6" lengthAdjust="spacingAndGlyphs">MACD</text>
<text x="61.7" y="667.7" font-size="14.5" fill="#b2dfdb" textLength="31.4" lengthAdjust="spacingAndGlyphs">0.52</text>
<text x="102.4" y="667.7" font-size="14.5" fill="#0094ff" textLength="30.2" lengthAdjust="spacingAndGlyphs">1.85</text>
<text x="141.4" y="667.7" font-size="14.5" fill="#ff6a00" textLength="30.6" lengthAdjust="spacingAndGlyphs">1.34</text>
<line x1="1074" y1="135.3" x2="832" y2="135.3" stroke="#008000" stroke-width="3.6"/>
<path d="M815.2 135.3L837.2 124.2V146.4Z" fill="#008000" stroke="#008000" stroke-width="3" stroke-linejoin="round"/>
<rect x="1074.6" y="120.1" width="94.2" height="30.6" rx="3" fill="#fff" stroke="#008000" stroke-width="4"/>
<text x="1080.8" y="143.2" font-size="24" fill="#008000" textLength="81.8" lengthAdjust="spacingAndGlyphs">Support</text>
<line x1="1011.5" y1="405" x2="850.8" y2="667.4" stroke="#008000" stroke-width="4.2"/>
<path d="M840.6 684.0L843.6 659.5L861.2 670.2Z" fill="#008000" stroke="#008000" stroke-width="3" stroke-linejoin="round"/>
<rect x="782.2" y="374.2" width="478.8" height="31" rx="3" fill="#fff" stroke="#008000" stroke-width="4"/>
<text x="789.0" y="397.5" font-size="24" fill="#008000" textLength="465.0" lengthAdjust="spacingAndGlyphs">A bullish convergence shows market strength</text>
<circle cx="29.3" cy="740" r="20.4" fill="#fff" stroke="#e3e3e3" stroke-width="1.2"/>
<path d="M19.6 747C17.4 747 16.1 745.3 16.1 743.4C16.1 741 18 739.3 20.6 739.2C20.6 735 23.6 731.7 27.4 731.7C30.4 731.7 32.6 733.4 33.6 736.2C34.4 735.9 35.4 735.8 36.4 735.9C39 736.2 40.6 738 40.6 740.2C42.2 740.8 43 742 43 743.4C43 745.4 41.6 747 39.6 747Z" fill="#3aa3ea"/>
<path d="M16.6 745L25.8 737.2L32.5 744L39.6 736.2" fill="none" stroke="#fff" stroke-width="1.4" stroke-linejoin="round"/>
<circle cx="25.8" cy="737.1" r="1.6" fill="#fff"/><circle cx="32.5" cy="744" r="1.7" fill="#fff"/>
<rect x="0" y="0" width="1440" height="50" fill="#fff"/>
<rect x="0" y="0" width="1440" height="1" fill="#e0e3eb"/>
<rect x="0" y="49" width="1440" height="1" fill="#e0e3eb"/>
<rect x="1293" y="1" width="147" height="48" fill="#2196f3"/>
<g fill="#e0e3eb" shape-rendering="crispEdges">
<rect x="125" y="1" width="1" height="49"/>
<rect x="173" y="1" width="1" height="49"/>
<rect x="221" y="1" width="2" height="49"/>
<rect x="270" y="1" width="1" height="49"/>
<rect x="319" y="1" width="1" height="49"/>
<rect x="368" y="1" width="1" height="49"/>
<rect x="416" y="1" width="2" height="49"/>
<rect x="465" y="1" width="1" height="49"/>
<rect x="514" y="1" width="1" height="49"/>
<rect x="593" y="1" width="1" height="49"/>
<rect x="943" y="1" width="1" height="49"/>
<rect x="992" y="1" width="1" height="49"/>
<rect x="1146" y="1" width="1" height="49"/>
<rect x="1195" y="1" width="1" height="49"/>
<rect x="1243" y="1" width="2" height="49"/>
<rect x="1393" y="1" width="1" height="49"/>
</g>
<text x="15.0" y="30.7" font-size="16.5" fill="#131722" textLength="32.8" lengthAdjust="spacingAndGlyphs" stroke="#131722" stroke-width="0.5">ANF</text>
<text x="144.4" y="30.8" font-size="16.5" fill="#131722" textLength="10.4" lengthAdjust="spacingAndGlyphs" stroke="#131722" stroke-width="0.35">D</text>
<text x="1036.8" y="30.7" font-size="17" fill="#131722" textLength="76.6" lengthAdjust="spacingAndGlyphs" stroke="#131722" stroke-width="0.3">My Charts</text>
<text x="1313.0" y="32.1" font-size="19" fill="#fff" textLength="60.0" lengthAdjust="spacingAndGlyphs" stroke="#fff" stroke-width="0.5">Publish</text>
<g fill="none" stroke="#1e2230" stroke-width="1.3" stroke-linecap="round" stroke-linejoin="round">
<path d="M193.1 12.2v4.4M193.1 32.5v4.2M203.1 16.2v4M203.1 28.9v3.900" stroke-linecap="butt"/>
<rect x="190.6" y="16.6" width="5" height="15.9" stroke-linejoin="miter"/><rect x="200.6" y="20.2" width="5" height="8.700" stroke-linejoin="miter"/>
<circle cx="245.8" cy="25" r="11.4"/><path d="M240.4 25h10.8M245.8 19.6v10.8"/>
<path d="M298.6 15.6c-0.6-1.6-2.4-2.2-3.8-1.6c-1.6 0.7-1.8 2.4-1.8 4.2v11.8c0 2.6-1.4 4-3.2 4c-1.4 0-2.4-0.8-2.8-1.8M289.2 20.6h8.2M297.2 28.6l5.6 5.6M302.8 28.6l-5.6 5.6"/>
<path d="M332.8 33.6V27.4H338M338 33.6V19.9H343.4V33.6M343.4 24H347.7M347.7 33.6V16.2H352.8V33.6H332.8Z" stroke-linecap="butt" stroke-linejoin="miter"/>
<path d="M382.6 21.6l5.8-5.6l7.4 5.2l7.8-6.4M382.9 30.2v4M388.1 25v9.2M393.4 27.6v6.6M398.3 30.2v4M403.3 25v9.2" stroke-linecap="butt"/>
<path d="M451 25.6A10 10 0 1 0 441 35M430.9 21.8A4.86 4.86 0 1 1 438 15.2M444 15.2A4.86 4.86 0 1 1 451.1 21.8M440.9 18.4V25.2H436.8M443.4 32.5H453.8M448.4 27.5V37.8"/>
<path d="M482.8 25l8 -7v14zM492.6 25l8 -7v14z" stroke-linejoin="miter"/>
<path d="M532.4 18.8l-4.6 4.6l4.6 4.6M528 23.4h9.4c4 0 6.6 2.8 6.6 7"/>
</g>
<path d="M574.4 18.8l4.6 4.6l-4.6 4.6M578.8 23.4h-9.4c-4 0-6.6 2.8-6.6 7" fill="none" stroke="#b8bcc6" stroke-width="1.3" stroke-linecap="round" stroke-linejoin="round"/>
<g fill="none" stroke="#1e2230" stroke-width="1.3" stroke-linecap="round" stroke-linejoin="round">
<rect x="957.6" y="14.8" width="22.6" height="20" rx="3"/>
<path d="M1006.5 33.8h19.5c2.8 0 4.8-2.2 4.8-4.8c0-2.4-1.8-4.4-4-4.6c0-5.2-3.8-9.4-8.8-9.4c-4 0-7.2 2.6-8.4 6.2c-3.800 0.400-6.200 3.200-6.200 6.400c0 3.400 2.400 6.200 6.200 6.200z" stroke-dasharray="3 2.4" stroke-linecap="butt"/>
<path d="M1128.2 22.400l4.800 4.600l4.800-4.600"/>
<path d="M1168.4 15.7L1168.5 12.6L1172.1 12.6L1172.2 15.7L1175.2 16.9L1177.4 14.8L1180.0 17.4L1177.9 19.6L1179.1 22.6L1182.2 22.7L1182.2 26.3L1179.1 26.4L1177.9 29.4L1180.0 31.6L1177.4 34.2L1175.2 32.1L1172.2 33.3L1172.1 36.4L1168.5 36.4L1168.4 33.3L1165.4 32.1L1163.2 34.2L1160.6 31.6L1162.7 29.4L1161.5 26.4L1158.4 26.3L1158.4 22.7L1161.5 22.6L1162.7 19.6L1160.6 17.4L1163.2 14.8L1165.4 16.9Z"/><circle cx="1170.3" cy="24.5" r="3.1"/>
<path d="M1210 20.6V15H1215.6M1210.2 15.2L1216.2 21.2M1229 20.6V15H1223.4M1228.800 15.2L1222.800 21.2M1210 28.2V33.800H1215.6M1210.2 33.600L1216.2 27.6M1229 28.2V33.800H1223.4M1228.800 33.600L1222.800 27.6" stroke-width="1.45" stroke-linecap="butt" stroke-linejoin="miter"/>
<path d="M1255.9 19.2a2.6 2.6 0 0 1 2.6-2.6h4.200c0.9 0 0.5-3 1.9-3h6.800c1.4 0 1 3 1.9 3h4a2.6 2.6 0 0 1 2.6 2.6v11.400a2.6 2.6 0 0 1-2.6 2.6h-18.800a2.6 2.6 0 0 1-2.6-2.6z"/><circle cx="1267.700" cy="24.900" r="4.900"/>
</g>
<circle cx="1416.900" cy="25" r="12.600" fill="none" stroke="#fff" stroke-width="1.300"/>
<path d="M1413.600 19.800v10.500l7.600-5.250z" fill="#fff"/>
</svg>
</body></html>
